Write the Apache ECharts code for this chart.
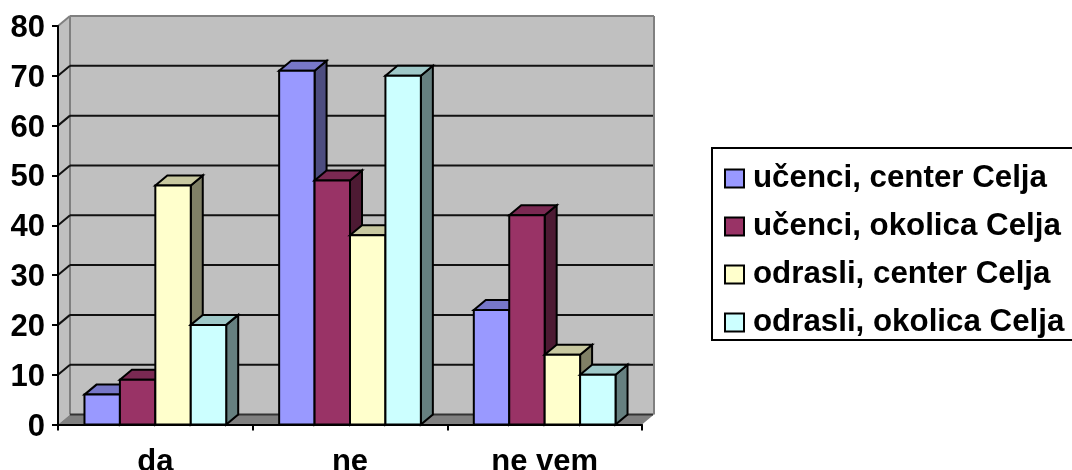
<!DOCTYPE html>
<html><head><meta charset="utf-8">
<style>html,body{margin:0;padding:0;background:#fff}#c{width:1072px;height:470px}</style>
<script src="https://cdn.jsdelivr.net/npm/echarts@6/dist/echarts.min.js"></script>
</head><body><div id="c"></div>
<script>
const categories = ['da', 'ne', 'ne vem'];
const yTicks = [0, 10, 20, 30, 40, 50, 60, 70, 80];
const names = ['učenci, center Celja', 'učenci, okolica Celja', 'odrasli, center Celja', 'odrasli, okolica Celja'];
const ucenciCenter = [6, 71, 23];
const ucenciOkolica = [9, 49, 42];
const odrasliCenter = [48, 38, 14];
const odrasliOkolica = [20, 70, 10];
const front = ['#9999FF', '#993366', '#FFFFCC', '#CCFFFF'];
const top_ = ['#7777C8', '#7A2952', '#C8C8A0', '#9FC8C8'];
const side = ['#4D4D80', '#4D1A33', '#808066', '#668080'];
const allValues = [ucenciCenter, ucenciOkolica, odrasliCenter, odrasliOkolica];

const DX = 12, DY = 10, GROUP = 0.728, FONT = 'Liberation Sans';
const WALL = '#C0C0C0', EDGE = '#808080', INK = '#000';

function poly(points, fill, stroke, lw) {
  return {type: 'polygon', shape: {points}, style: {fill, stroke: stroke || null, lineWidth: lw || 0, lineJoin: 'miter'}};
}
function line(x1, y1, x2, y2, stroke, lw) {
  return {type: 'line', shape: {x1, y1, x2, y2}, style: {stroke, lineWidth: lw}};
}
function wallItem(params, api) {
  const c = params.coordSys;
  const l = c.x, r = c.x + c.width, t = c.y, b = c.y + c.height;
  return {type: 'group', children: [
    poly([[l + DX, t - DY], [r + DX, t - DY], [r + DX, b - DY], [l + DX, b - DY]], WALL),
    poly([[l, t], [l + DX, t - DY], [l + DX, b - DY], [l, b]], WALL),
    poly([[l, b], [l + DX, b - DY], [r + DX, b - DY], [r, b]], EDGE),
    line(l, t, l + DX, t - DY, EDGE, 2),
    line(l + DX, t - DY, r + DX, t - DY, EDGE, 2),
    line(l + DX, t - DY, l + DX, b - DY, EDGE, 2),
    line(r + DX, t - DY, r + DX, b - DY, EDGE, 2)
  ]};
}
function gridItem(params, api) {
  const v = api.value(1), c = params.coordSys;
  const y = api.coord([0, v])[1];
  const l = c.x, r = c.x + c.width;
  if (v === 80) return {type: 'group', children: []};
  const kids = [line(l + DX, y - DY, r + DX - 1, y - DY, v === 0 ? '#333' : '#111', 2)];
  if (v > 0) kids.push(line(l, y, l + DX, y - DY, '#111', 2));
  return {type: 'group', children: kids};
}
function barItem(s) {
  return function (params, api) {
    const cat = api.value(0), v = api.value(1);
    const p = api.coord([cat, v]), base = api.coord([cat, 0]);
    const band = api.size([1, 0])[0];
    const w = band * GROUP / 4;
    const x0 = p[0] - band * GROUP / 2 + s * w, x1 = x0 + w;
    const y1 = p[1], y0 = base[1];
    return {type: 'group', children: [
      poly([[x1, y1], [x1 + DX, y1 - DY], [x1 + DX, y0 - DY], [x1, y0]], side[s], INK, 2),
      poly([[x0, y1], [x0 + DX, y1 - DY], [x1 + DX, y1 - DY], [x1, y1]], top_[s], INK, 2),
      poly([[x0, y1], [x1, y1], [x1, y0], [x0, y0]], front[s], INK, 2)
    ]};
  };
}
const barSeries = names.map((name, s) => ({
  name, type: 'custom', z: 3, renderItem: barItem(s), itemStyle: {color: front[s]},
  data: allValues[s].map((v, i) => [i, v]), animation: false, silent: true
}));

const chart = echarts.init(document.getElementById('c'), null, {renderer: 'canvas'});
chart.setOption({
  animation: false,
  backgroundColor: '#fff',
  textStyle: {fontFamily: FONT},
  grid: {left: 58, top: 26, width: 584, height: 398.5, outerBoundsMode: 'none'},
  legend: {
    left: 712, top: 148, orient: 'vertical', data: names,
    itemWidth: 19, itemHeight: 18, itemGap: 17,
    padding: [15, 12, 2, 12], borderColor: '#000', borderWidth: 2,
    icon: 'rect', selectedMode: false,
    itemStyle: {borderColor: '#000', borderWidth: 2},
    textStyle: {fontFamily: FONT, fontWeight: 'bold', fontSize: 31.3, color: '#000', padding: [0, 0, 0, 4]}
  },
  xAxis: {
    type: 'category', data: categories, z: 6,
    axisLine: {show: true, lineStyle: {color: '#000', width: 2}},
    axisTick: {show: true, length: 6, alignWithLabel: false, lineStyle: {color: '#000', width: 2}},
    axisLabel: {fontFamily: FONT, fontWeight: 'bold', fontSize: 31, color: '#000', margin: 22},
    splitLine: {show: false}
  },
  yAxis: {
    type: 'value', min: 0, max: 80, interval: 10, z: 6,
    axisLine: {show: true, lineStyle: {color: '#000', width: 2}},
    axisTick: {show: true, length: 6, lineStyle: {color: '#000', width: 2}},
    axisLabel: {
      formatter: '{a|{value}}', margin: 13,
      rich: {a: {fontFamily: FONT, fontWeight: 'bold', fontSize: 31, color: '#000', padding: [5, 0, 0, 0]}}
    },
    splitLine: {show: false}
  },
  series: [
    {type: 'custom', name: 'wall', z: 1, renderItem: wallItem, data: [[0, 0]], silent: true},
    {type: 'custom', name: 'grid', z: 2, renderItem: gridItem, data: yTicks.map(v => [0, v]), silent: true}
  ].concat(barSeries)
});
</script></body></html>
